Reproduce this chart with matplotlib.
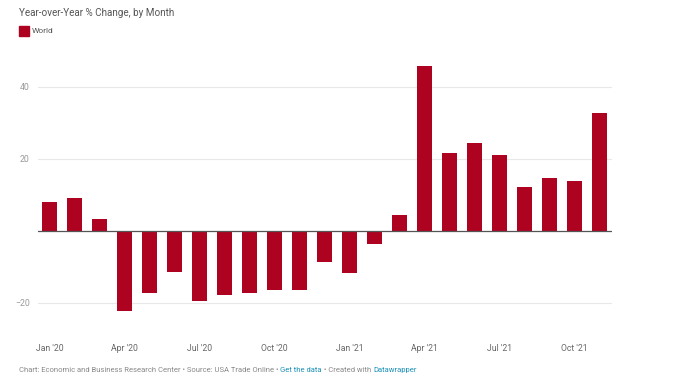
import matplotlib.pyplot as plt
import numpy as np

plt.rcParams['font.family'] = ['Roboto', 'DejaVu Sans']

# Monthly year-over-year % change, Jan 2020 - Nov 2021
months = ["Jan '20", "Feb '20", "Mar '20", "Apr '20", "May '20", "Jun '20",
          "Jul '20", "Aug '20", "Sep '20", "Oct '20", "Nov '20", "Dec '20",
          "Jan '21", "Feb '21", "Mar '21", "Apr '21", "May '21", "Jun '21",
          "Jul '21", "Aug '21", "Sep '21", "Oct '21", "Nov '21"]
world = [8.0, 9.2, 3.2, -22.1, -17.1, -11.5, -19.4, -17.7, -17.3, -16.5, -16.3, -8.7,
         -11.7, -3.7, 4.4, 45.8, 21.8, 24.5, 21.2, 12.2, 14.6, 13.8, 32.7]
yticks = [-20, 20, 40]

barColor = '#ad0220'

fig = plt.figure(figsize=(6.91, 3.92), dpi=100)
ax = fig.add_axes([38 / 691, 1 - 324.6 / 392, (612 - 38) / 691, (324.6 - 58.2) / 392])

x = np.arange(len(world))
ax.bar(x, world, width=0.6, color=barColor, zorder=3)

ax.set_xlim(-0.48, 22.52)
ax.set_ylim(-26, 48)

for y in yticks:
	ax.axhline(y, color='#e8e8e8', linewidth=0.8, zorder=1)
ax.axhline(0, color='#555555', linewidth=0.9, zorder=4)

ax.set_yticks(yticks)
ax.set_yticklabels([str(t) if t >= 0 else '\u2212' + str(-t) for t in yticks])
ax.set_xticks(x[::3])
ax.set_xticklabels(months[::3])
ax.tick_params(axis='y', length=0, pad=6, labelsize=6.3, labelcolor='#999999')
ax.tick_params(axis='x', length=0, pad=14, labelsize=6.2, labelcolor='#666666')
for lbl in ax.get_yticklabels():
	lbl.set_verticalalignment('center')

for s in ax.spines.values():
	s.set_visible(False)

# Title, legend and footer
fig.text(19 / 691, 1 - 13 / 392, "Year-over-Year % Change, by Month", fontsize=7.1,
	color='#555555', va='center', ha='left')
fig.patches.append(plt.Rectangle((19 / 691, 1 - 36 / 392), 10 / 691, 10 / 392,
	transform=fig.transFigure, color=barColor, figure=fig))
fig.text(31.5 / 691, 1 - 31 / 392, "World", fontsize=6.0, color='#555555', va='center', ha='left')

footY = 1 - 370 / 392
parts = [("Chart: Economic and Business Research Center \u2022 Source: USA Trade Online \u2022 ", '#888888'),
	("Get the data", '#1d91b8'),
	(" \u2022 Created with ", '#888888'),
	("Datawrapper", '#1d91b8')]
fig.canvas.draw()
renderer = fig.canvas.get_renderer()
xpos = 19 / 691
for txt, col in parts:
	t = fig.text(xpos, footY, txt, fontsize=5.5, color=col, va='center', ha='left')
	bb = t.get_window_extent(renderer=renderer)
	xpos += bb.width / fig.bbox.width

plt.savefig('out.png', dpi=100)
